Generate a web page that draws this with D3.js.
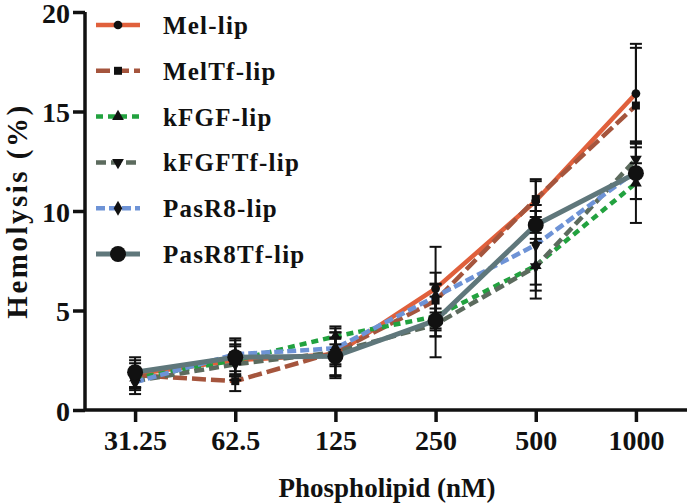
<!DOCTYPE html>
<html>
<head>
<meta charset="utf-8">
<script src="https://cdn.jsdelivr.net/npm/d3@7"></script>
<style>
  html, body { margin: 0; padding: 0; background: #fff; }
  svg { display: block; }
  text { font-family: "Liberation Serif", "Times New Roman", serif; font-weight: bold; fill: #111; }
</style>
</head>
<body>
<svg id="chart" width="690" height="504"></svg>
<script>
// ---- data ----
const categories = ["31.25", "62.5", "125", "250", "500", "1000"];
const yTicks = [0, 5, 10, 15, 20];
const seriesNames = ["Mel-lip", "MelTf-lip", "kFGF-lip", "kFGFTf-lip", "PasR8-lip", "PasR8Tf-lip"];
const melLip      = [1.8, 2.5, 2.8, 6.1, 10.5, 15.9];
const melLipErr   = [0.7, 1.0, 1.1, 2.1, 1.1, 2.5];
const melTfLip    = [1.75, 1.45, 2.9, 5.5, 10.6, 15.3];
const melTfLipErr = [0.6, 0.5, 1.3, 1.4, 0.9, 2.9];
const kfgfLip     = [1.6, 2.5, 3.7, 4.7, 7.25, 11.4];
const kfgfLipErr  = [0.5, 0.7, 0.4, 1.0, 1.65, 2.0];
const kfgfTfLip   = [1.45, 2.3, 2.9, 4.3, 7.2, 12.6];
const kfgfTfLipErr= [0.45, 0.6, 0.7, 0.6, 1.2, 0.9];
const pasR8Lip    = [1.4, 2.8, 3.1, 5.7, 8.3, 12.0];
const pasR8LipErr = [0.6, 0.5, 0.8, 0.6, 2.0, 1.4];
const pasR8TfLip  = [1.9, 2.65, 2.7, 4.5, 9.3, 11.9];
const pasR8TfLipErr=[0.75, 0.95, 0.95, 1.85, 0.7, 1.3];

const seriesValues = [melLip, melTfLip, kfgfLip, kfgfTfLip, pasR8Lip, pasR8TfLip];
const seriesErrors = [melLipErr, melTfLipErr, kfgfLipErr, kfgfTfLipErr, pasR8LipErr, pasR8TfLipErr];

// ---- styles ----
const styles = [
  { color: "#E0603C", dash: null,    width: 4.5, symbol: d3.symbolCircle,   size: 60,  rot: 0 },
  { color: "#A5553D", dash: "14,5",  width: 4.5, symbol: d3.symbolSquare,   size: 64,  rot: 0 },
  { color: "#22A23F", dash: "7,5",   width: 4.5, symbol: d3.symbolTriangle, size: 60,  rot: 0 },
  { color: "#5C6B5E", dash: "10,5",  width: 4.5, symbol: d3.symbolTriangle, size: 60,  rot: 180 },
  { color: "#6E93D6", dash: "9,4",   width: 4.5, symbol: d3.symbolDiamond,  size: 64,  rot: 0 },
  { color: "#5F777B", dash: null,    width: 5,   symbol: d3.symbolCircle,   size: 200, rot: 0 }
];

const svg = d3.select("#chart");
const x = d3.scalePoint().domain(categories).range([85, 686]).padding(0.5);
const y = d3.scaleLinear().domain([0, 20]).range([410, 12]);

// ---- axes ----
const yAxis = svg.append("g").attr("transform", "translate(85,0)")
  .call(d3.axisLeft(y).tickValues(yTicks).tickSize(12).tickPadding(3).tickSizeOuter(0));
const xAxis = svg.append("g").attr("transform", "translate(0,410)")
  .call(d3.axisBottom(x).tickSize(12).tickPadding(8).tickSizeOuter(0));
[xAxis, yAxis].forEach(g => {
  g.select(".domain").attr("stroke", "#111").attr("stroke-width", 3.5);
  g.selectAll(".tick line").attr("stroke", "#111").attr("stroke-width", 3.5);
  g.selectAll(".tick text").style("font-size", "28px")
    .style("font-family", '"Liberation Serif", serif').style("font-weight", "bold").attr("fill", "#111");
});
xAxis.select(".domain").attr("d", "M85,0H687");
yAxis.select(".domain").attr("d", "M0,410V12");
yAxis.selectAll(".tick text").attr("dy", "0.36em");

// axis titles
svg.append("text").attr("x", 387).attr("y", 497).attr("text-anchor", "middle")
  .style("font-size", "27px").text("Phospholipid (nM)");
svg.append("text").attr("transform", "translate(27,211) rotate(-90)").attr("text-anchor", "middle")
  .style("font-size", "29px").style("letter-spacing", "2.5px").text("Hemolysis (%)");

// ---- lines ----
const line = d3.line().x((d, i) => x(categories[i])).y(d => y(d));
seriesValues.forEach((vals, s) => {
  const st = styles[s];
  svg.append("path").datum(vals).attr("d", line)
    .attr("fill", "none").attr("stroke", st.color).attr("stroke-width", st.width)
    .attr("stroke-dasharray", st.dash).attr("stroke-linejoin", "round");
});

// ---- error bars ----
seriesValues.forEach((vals, s) => {
  const errs = seriesErrors[s];
  const g = svg.append("g").attr("stroke", "#111").attr("stroke-width", 2);
  vals.forEach((v, i) => {
    const cx = x(categories[i]);
    const yt = y(v + errs[i]), yb = y(v - errs[i]);
    g.append("line").attr("x1", cx).attr("x2", cx).attr("y1", yt).attr("y2", yb);
    g.append("line").attr("x1", cx - 6).attr("x2", cx + 6).attr("y1", yt).attr("y2", yt);
    g.append("line").attr("x1", cx - 6).attr("x2", cx + 6).attr("y1", yb).attr("y2", yb);
  });
});

// ---- markers ----
seriesValues.forEach((vals, s) => {
  const st = styles[s];
  const sym = d3.symbol().type(st.symbol).size(st.size);
  vals.forEach((v, i) => {
    svg.append("path").attr("d", sym())
      .attr("transform", `translate(${x(categories[i])},${y(v)}) rotate(${st.rot})`)
      .attr("fill", "#111");
  });
});

// ---- legend ----
const legend = svg.append("g");
seriesNames.forEach((name, s) => {
  const st = styles[s];
  const ly = 25 + s * 45.8;
  legend.append("line").attr("x1", 96).attr("x2", 140).attr("y1", ly).attr("y2", ly)
    .attr("stroke", st.color).attr("stroke-width", st.width).attr("stroke-dasharray", st.dash);
  legend.append("path").attr("d", d3.symbol().type(st.symbol).size(st.size)())
    .attr("transform", `translate(118,${ly}) rotate(${st.rot})`).attr("fill", "#111");
  legend.append("text").attr("x", 163).attr("y", ly + 9)
    .style("font-size", "25px").style("letter-spacing", "1.2px").text(name);
});
</script>
</body>
</html>
